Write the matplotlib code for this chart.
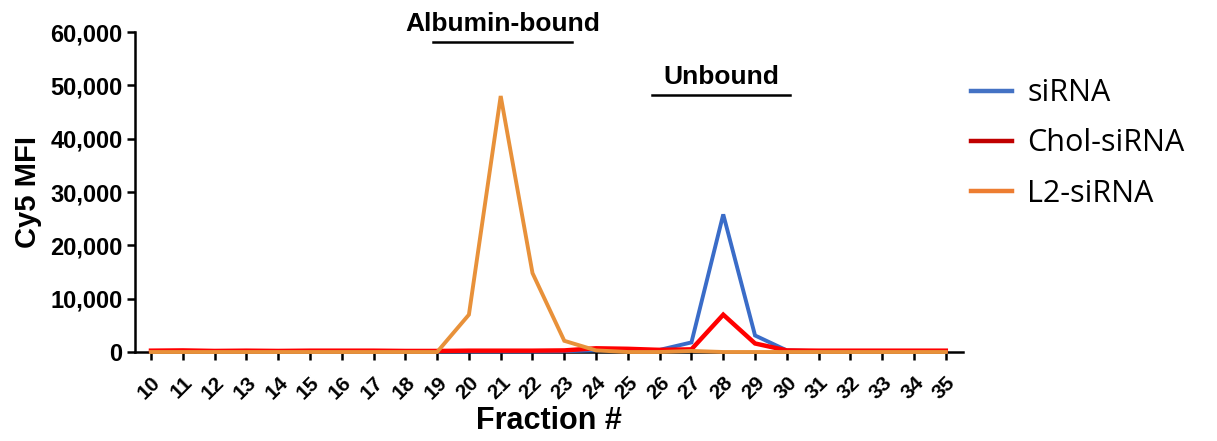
import numpy as np
import matplotlib
matplotlib.use("Agg")
import matplotlib.pyplot as plt
from matplotlib.ticker import FuncFormatter

# Cy5 signal per collected fraction.
fractions = list(range(10, 36))
sirna = [150, 150, 100, 100, 100, 100, 100, 100, 100, 100, 100, 100, 100, 150,
         300, 300, 400, 1800, 25800, 3100, 300, 150, 150, 150, 150, 150]
chol_sirna = [250, 300, 200, 250, 200, 250, 250, 250, 200, 200, 250, 250, 250, 300,
              700, 600, 400, 500, 7000, 1600, 300, 250, 250, 250, 250, 250]
l2_sirna = [0, 0, 0, 0, 0, 0, 0, 0, 0, 0, 7000, 48000, 14800, 2100,
            300, 0, 0, 200, 0, 0, 0, 0, 0, 0, 0, 0]

series_names = ["siRNA", "Chol-siRNA", "L2-siRNA"]
line_colors = ["#3A6CC8", "#FF0000", "#E8913A"]
legend_colors = ["#4472C4", "#C00000", "#ED7D31"]

# Bracket annotations: (label, start fraction, end fraction, height)
brackets = [("Albumin-bound", 18.87, 23.25, 58100),
            ("Unbound", 25.75, 30.1, 48200)]

plt.rcParams["font.family"] = ["Liberation Sans", "DejaVu Sans"]
plt.rcParams["font.weight"] = "bold"

fig = plt.figure(figsize=(12.17, 4.41), dpi=100)
ax = fig.add_axes([0.111, 0.2018, 0.680, 0.7256])

# draw orange first so the others sit on top of it
order = [2, 0, 1]
for i in order:
    data = [sirna, chol_sirna, l2_sirna][i]
    ax.plot(fractions, data, color=line_colors[i], lw=2.8 if i != 1 else 3.2,
            solid_joinstyle="miter", zorder=3 + i, clip_on=False)

ax.set_xlim(9.5, 35.53)
ax.set_ylim(0, 60000)
ax.set_xticks(fractions)
ax.set_xticklabels([str(f) for f in fractions], rotation=45, ha="right",
                   va="top", rotation_mode="anchor", fontsize=15,
                   fontweight="bold")
ax.set_yticks(np.arange(0, 60001, 10000))
ax.yaxis.set_major_formatter(FuncFormatter(lambda v, p: f"{int(v):,}"))
for lab in ax.get_yticklabels():
    lab.set_fontsize(17)
    lab.set_fontweight("bold")

for side in ["top", "right"]:
    ax.spines[side].set_visible(False)
for side in ["left", "bottom"]:
    ax.spines[side].set_linewidth(1.8)
ax.tick_params(axis="both", width=1.8, length=6, pad=3)
ax.tick_params(axis="x", pad=9)

ax.set_xlabel("Fraction #", fontsize=22, fontweight="bold", labelpad=2)
ax.set_ylabel("Cy5 MFI", fontsize=21, fontweight="bold", labelpad=6)

for text, x0, x1, y in brackets:
    ax.plot([x0, x1], [y, y], color="black", lw=1.8, clip_on=False)
    ax.text((x0 + x1) / 2, y + 1100, text, ha="center", va="bottom",
            fontsize=19, fontweight="bold", clip_on=False)

# legend handled manually so it keeps the Office-style colours
handles = [plt.Line2D([], [], color=c, lw=3.2) for c in legend_colors]
leg = fig.legend(handles, series_names, loc="upper left",
                 bbox_to_anchor=(0.775, 0.885), frameon=False,
                 prop={"family": "Open Sans", "size": 22, "weight": "normal"},
                 handlelength=1.35, labelspacing=0.66, handletextpad=0.5)

fig.savefig("out.png", dpi=100)
